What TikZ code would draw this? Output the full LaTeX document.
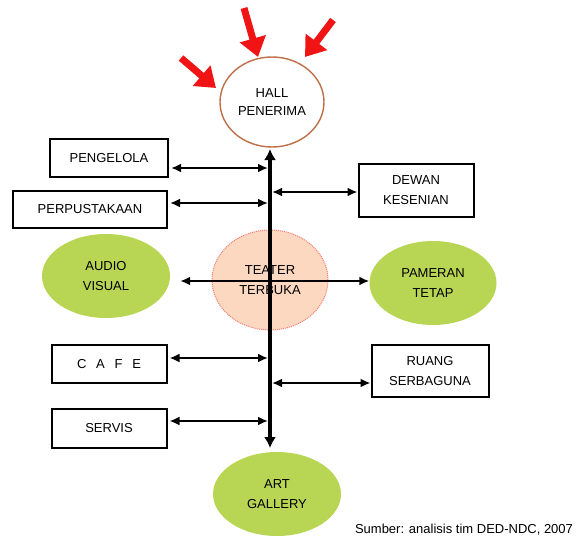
\documentclass[tikz,border=0pt]{standalone}
\usepackage{fontspec}
\setmainfont{Liberation Sans}
\usetikzlibrary{arrows.meta,shapes.geometric}
\definecolor{leaf}{RGB}{184,214,84}
\definecolor{peach}{RGB}{252,216,192}
\definecolor{rust}{RGB}{190,110,70}
\definecolor{blush}{RGB}{240,120,110}
\definecolor{signal}{RGB}{240,20,20}
\tikzset{
	room/.style={draw, line width=2pt, align=center, inner sep=1pt, font=\fontsize{13}{20}\selectfont},
	zone/.style={ellipse, fill=leaf, align=center, inner sep=1pt, font=\fontsize{13}{20}\selectfont},
	link/.style={line width=2.2pt, {Latex[length=10pt,width=9pt]}-{Latex[length=10pt,width=9pt]}},
	spine/.style={line width=3.4pt, {Latex[length=11pt,width=12pt]}-{Latex[length=11pt,width=12pt]}},
	entry/.style={signal, line width=7pt, -{Triangle[length=19pt,width=26pt]}}
}
\begin{document}
\begin{tikzpicture}[x=1pt, y=-1pt]
	\useasboundingbox (0,0) rectangle (576,538);
	% hall and the way in
	\node[ellipse, draw=rust, line width=1.4pt, minimum width=104pt, minimum height=90pt, align=center, inner sep=1pt, font=\fontsize{13}{18}\selectfont] (hall) at (272,102) {HALL\\PENERIMA};
	\draw[entry] (181,58) -- (216,88);
	\draw[entry] (244,8) -- (258,57);
	\draw[entry] (333,20) -- (305,57);
	% rooms
	\node[room, minimum width=118pt, minimum height=38pt] (pengelola) at (109,158) {PENGELOLA};
	\node[room, minimum width=154pt, minimum height=37pt] (perpustakaan) at (90,209) {PERPUSTAKAAN};
	\node[room, minimum width=115pt, minimum height=53pt] (dewan) at (416,190) {DEWAN\\KESENIAN};
	\node[room, minimum width=115pt, minimum height=38pt] (cafe) at (109,364) {C\hspace{.75em}A\hspace{.75em}F\hspace{.75em}E};
	\node[room, minimum width=117pt, minimum height=52pt] (ruang) at (430,371) {RUANG\\SERBAGUNA};
	\node[room, minimum width=115pt, minimum height=39pt] (servis) at (109,428) {SERVIS};
	% zones
	\node[ellipse, fill=peach, draw=blush, densely dotted, line width=1pt, minimum width=116pt, minimum height=100pt, align=center, inner sep=1pt, font=\fontsize{13}{20}\selectfont] (teater) at (270,280) {TEATER\\TERBUKA};
	\node[zone, minimum width=128pt, minimum height=84pt] (audio) at (106,276) {AUDIO\\VISUAL};
	\node[zone, minimum width=127pt, minimum height=84pt] (pameran) at (433,283) {PAMERAN\\TETAP};
	\node[zone, minimum width=128pt, minimum height=84pt] (gallery) at (277,494) {ART\\GALLERY};
	% spine
	\coordinate (top) at (270,149);
	\coordinate (bot) at (270,448);
	\draw[spine] (top) -- (bot);
	\coordinate (s1) at (268,168);
	\coordinate (s2) at (268,203);
	\coordinate (s3) at (272,192);
	\coordinate (s4) at (270,281);
	\coordinate (s5) at (268,358);
	\coordinate (s6) at (272,383);
	\coordinate (s7) at (268,421);
	\draw[link] ([xshift=2pt]pengelola.east |- s1) -- (s1);
	\draw[link] ([xshift=2pt]perpustakaan.east |- s2) -- (s2);
	\draw[link] (s3) -- (dewan.west |- s3);
	\draw[link] ([xshift=10pt]audio.east |- s4) -- (pameran.west |- s4);
	\draw[link] ([xshift=2pt]cafe.east |- s5) -- (s5);
	\draw[link] (s6) -- (ruang.west |- s6);
	\draw[link] ([xshift=2pt]servis.east |- s7) -- (s7);
	\node[font=\fontsize{13}{15}\selectfont] (sumber) at (464,530) {Sumber: analisis tim DED-NDC, 2007};
\end{tikzpicture}
\end{document}
